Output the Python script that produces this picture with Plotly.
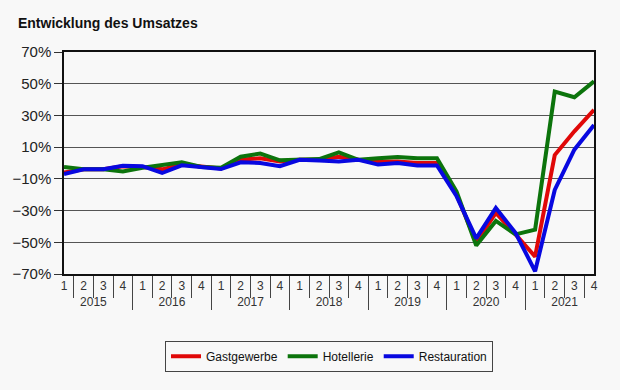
import plotly.graph_objects as go

years = ["2015", "2016", "2017", "2018", "2019", "2020", "2021"]
quarters = ["1", "2", "3", "4"]

gastgewerbe = [-6, -4, -4, -2, -2.5, -4, -1, -2.5, -3.5, 2, 3, 1, 2, 2, 4, 2, 1, 1, 0, 0,
               -20, -50, -31.5, -45, -59, 5, 20, 33.5]
hotellerie = [-2.5, -4, -4, -5.3, -3, -1.5, 0.4, -2.5, -3, 4, 6, 1.7, 2.2, 2.5, 6.7, 2, 3, 3.8, 3, 3,
              -18, -52, -36.5, -45, -42, 45, 41.5, 51.5]
restauration = [-7, -4, -4, -1.7, -2, -6.3, -1.5, -2.5, -3.8, 0.4, 0, -2, 2, 1.5, 1, 2, -1, 0, -1.5, -1.5,
                -21, -47.5, -28.4, -44, -68.3, -17, 8.4, 24]

x_years = [y for y in years for q in quarters]
x_quarters = [q for y in years for q in quarters]

series = [("Gastgewerbe", gastgewerbe, "#e00808"),
          ("Hotellerie", hotellerie, "#0c740c"),
          ("Restauration", restauration, "#0808e0")]

fig = go.Figure()
for name, vals, col in series:
    fig.add_trace(go.Scatter(x=[x_years, x_quarters], y=vals, mode="lines", name=name,
                             line=dict(color=col, width=4)))

fig.update_layout(
    width=620, height=390,
    paper_bgcolor="#f8f8f8", plot_bgcolor="#f8f8f8",
    margin=dict(l=58, r=26, t=52, b=116),
    font=dict(family="Liberation Sans, Arial, sans-serif", size=13, color="#222"),
    title=dict(text="<b>Entwicklung des Umsatzes</b>", x=0.029, xanchor="left", y=0.94, yanchor="middle",
               font=dict(size=14, color="#111")),
    showlegend=True,
    legend=dict(orientation="h", x=0.5, xanchor="center", y=-0.37, yanchor="middle",
                bordercolor="#444", borderwidth=1, bgcolor="#f8f8f8",
                font=dict(size=12, color="#111"), itemwidth=30, tracegroupgap=0),
)
fig.update_yaxes(range=[-70, 70], dtick=20, tick0=-70, ticksuffix="%", showgrid=True,
                 gridcolor="#555", gridwidth=1, zeroline=False, showline=True, linecolor="#111",
                 linewidth=1.5, mirror=True, ticks="outside", ticklen=8, tickcolor="#333",
                 tickfont=dict(size=15, color="#222"))
fig.update_xaxes(type="multicategory", showline=True, linecolor="#111", linewidth=1.5, mirror=True,
                 showgrid=False, ticks="outside", ticklen=22, tickcolor="#444", tickson="boundaries",
                 showdividers=True, dividercolor="#444", dividerwidth=1,
                 tickfont=dict(size=12, color="#333"))

fig.write_html("out.html", config={"displayModeBar": False},
               post_script="document.body.style.margin='0';document.body.style.background='#f8f8f8';")
